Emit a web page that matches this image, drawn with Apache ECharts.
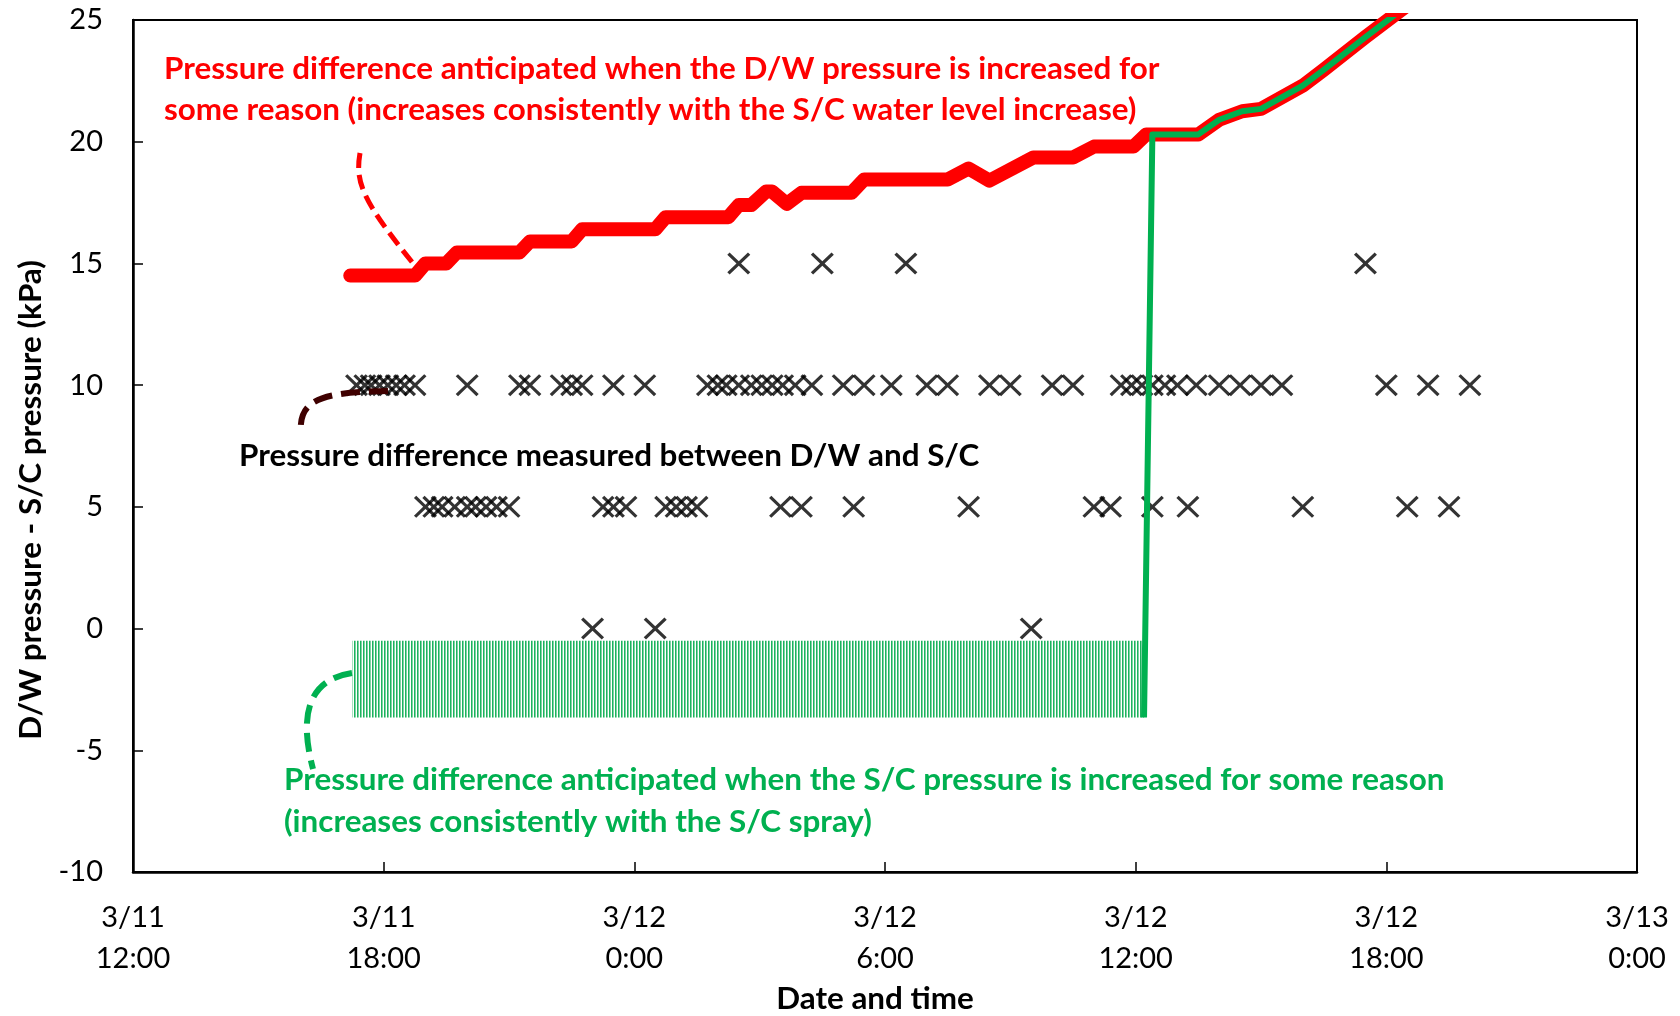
<!DOCTYPE html>
<html><head><meta charset="utf-8">
<script src="https://cdn.jsdelivr.net/npm/echarts@6/dist/echarts.min.js"></script>
<style>html,body{margin:0;padding:0;background:#fff}#c{width:1680px;height:1016px}</style>
</head><body><div id="c"></div>
<script>
// x values are hours after 3/11 12:00
const xTickLabels = ['3/11\n12:00','3/11\n18:00','3/12\n0:00','3/12\n6:00','3/12\n12:00','3/12\n18:00','3/13\n0:00'];
const yTickValues = [-10,-5,0,5,10,15,20,25];

// measured pressure difference (kPa) – times (h) at each reading level
const measured15Hours = [14.5, 16.5, 18.5, 29.5];
const measured10Hours = [5.35, 5.55, 5.7, 5.9, 6.1, 6.3, 6.5, 6.75, 8.0, 9.25, 9.5, 10.25, 10.5, 10.75, 11.5, 12.25,
  13.75, 14.0, 14.2, 14.5, 14.8, 15.05, 15.3, 15.55, 15.85, 16.25, 17.0, 17.5, 18.15, 19.0, 19.5, 20.5, 21.0,
  22.0, 22.5, 23.65, 23.9, 24.15, 24.4, 24.7, 25.0, 25.45, 26.0, 26.5, 27.0, 27.5, 30.0, 31.0, 32.0];
const measured5Hours = [7.0, 7.2, 7.4, 7.7, 8.0, 8.2, 8.45, 8.7, 9.0, 11.25, 11.5, 11.8, 12.75, 13.0, 13.25, 13.5,
  15.5, 16.0, 17.25, 20.0, 23.0, 23.4, 24.4, 25.25, 28.0, 30.5, 31.5];
const measured0Hours = [11.0, 12.5, 21.5];

// anticipated when D/W pressure increased (red)
const redHours = [5.2, 6.75, 7.0, 7.5, 7.75, 9.25, 9.5, 10.5, 10.75, 12.5, 12.75, 14.25, 14.5, 14.8, 15.15, 15.3, 15.65, 16.0,
  17.2, 17.5, 19.5, 20.0, 20.5, 21.55, 22.5, 23.0, 23.95, 24.25, 25.5, 26.0, 26.55, 27.0, 28.0, 28.5, 29.5, 30.5];
const redKPa = [14.5, 14.5, 15.0, 15.0, 15.45, 15.45, 15.9, 15.9, 16.4, 16.4, 16.9, 16.9, 17.4, 17.4, 17.95, 17.95, 17.45, 17.9,
  17.9, 18.45, 18.45, 18.9, 18.4, 19.35, 19.35, 19.8, 19.8, 20.3, 20.3, 20.9, 21.25, 21.35, 22.3, 22.95, 24.3, 25.6];

// anticipated when S/C pressure increased (green)
const greenHours = [24.2, 24.4, 25.5, 26.0, 26.55, 27.0, 28.0, 28.5, 29.5, 30.5];
const greenKPa = [-3.65, 20.3, 20.3, 20.9, 21.25, 21.35, 22.3, 22.95, 24.3, 25.6];
const greenBandStart = 5.25, greenBandEnd = 24.2, greenBandLow = -3.65, greenBandHigh = -0.5;

const FONT = 'Lato';
const RED = '#ff0000', GREEN = '#00b050', BROWN = '#3f0000';

const pc = document.createElement('canvas');
pc.width = 3; pc.height = 4;
const g = pc.getContext('2d');
g.fillStyle = '#ffffff'; g.fillRect(0,0,3,4);
g.fillStyle = '#1cb35e'; g.fillRect(0,0,1,4);
g.fillStyle = '#7fd3a3'; g.fillRect(1,0,1,4);

const xMark = 'path://M0,10L10,0L50,40L90,0L100,10L60,50L100,90L90,100L50,60L10,100L0,90L40,50Z';
const pts = (hrs, v) => hrs.map(h => [h, v]);
const scatterData = [].concat(pts(measured15Hours,15), pts(measured10Hours,10), pts(measured5Hours,5), pts(measured0Hours,0));

const chart = echarts.init(document.getElementById('c'), null, {renderer:'canvas'});
const TF = 'bold 31.4px ' + FONT;
chart.setOption({
  animation:false,
  backgroundColor:'#fff',
  grid:{left:133, right:43, top:20, bottom:144, show:true, borderColor:'#000', borderWidth:2, backgroundColor:'transparent'},
  xAxis:{type:'value', min:0, max:36, interval:6,
    axisLine:{onZero:false, lineStyle:{color:'#000', width:2.5}},
    axisTick:{inside:true, length:10, lineStyle:{color:'#000', width:1.5}},
    splitLine:{show:false},
    axisLabel:{color:'#000', fontFamily:FONT, fontSize:29, lineHeight:41, margin:25,
      formatter:v => xTickLabels[Math.round(v/6)]}},
  yAxis:{type:'value', min:yTickValues[0], max:yTickValues[yTickValues.length-1], interval:5,
    axisLine:{lineStyle:{color:'#000', width:2.5}},
    axisTick:{inside:true, length:10, lineStyle:{color:'#000', width:1.5}},
    splitLine:{show:false},
    axisLabel:{color:'#000', fontFamily:FONT, fontSize:29, margin:30}},
  series:[
    {type:'scatter', data:scatterData, symbol:xMark, symbolSize:[23,22], itemStyle:{color:'#000'}, z:2},
    {type:'line', data:redHours.map((h,i)=>[h,redKPa[i]]), symbol:'none', clip:true,
      lineStyle:{color:RED, width:14, cap:'round', join:'round'}, z:3},
    {type:'custom', z:4, clip:true,
      data:[[greenBandStart, greenBandEnd, greenBandLow, greenBandHigh]],
      encode:{x:[0,1], y:[2,3]},
      renderItem:(params, api) => {
        const a = api.coord([api.value(0), api.value(3)]);
        const b = api.coord([api.value(1), api.value(2)]);
        return {type:'rect', shape:{x:a[0], y:a[1], width:b[0]-a[0], height:b[1]-a[1]},
          style:{fill:{type:'pattern', image:pc, repeat:'repeat'}}};
      }},
    {type:'line', data:greenHours.map((h,i)=>[h,greenKPa[i]]), symbol:'none', clip:true,
      lineStyle:{color:GREEN, width:6, join:'round'}, z:5}
  ],
  graphic:[
    {type:'bezierCurve', z:100, shape:{x1:360,y1:153,cpx1:355,cpy1:182,cpx2:362,cpy2:200,x2:412,y2:262},
      style:{stroke:RED, lineWidth:5, lineDash:[15,7], fill:null}},
    {type:'bezierCurve', z:100, shape:{x1:388,y1:391,cpx1:320,cpy1:392,cpx2:298,cpy2:400,x2:301,y2:434},
      style:{stroke:BROWN, lineWidth:6, lineDash:[19,9], fill:null}},
    {type:'bezierCurve', z:100, shape:{x1:352,y1:673,cpx1:305,cpy1:680,cpx2:300,cpy2:720,x2:313,y2:769},
      style:{stroke:GREEN, lineWidth:6, lineDash:[19,9], fill:null}},
    {type:'text', z:100, x:164, y:69, style:{text:'Pressure difference anticipated when the D/W pressure is increased for', fill:RED, font:TF, verticalAlign:'middle'}},
    {type:'text', z:100, x:164, y:110, style:{text:'some reason (increases consistently with the S/C water level increase)', fill:RED, font:TF, verticalAlign:'middle'}},
    {type:'text', z:100, x:239, y:456, style:{text:'Pressure difference measured between D/W and S/C', fill:'#000', font:TF, verticalAlign:'middle'}},
    {type:'text', z:100, x:284, y:780, style:{text:'Pressure difference anticipated when the S/C pressure is increased for some reason', fill:GREEN, font:TF, verticalAlign:'middle'}},
    {type:'text', z:100, x:284, y:822, style:{text:'(increases consistently with the S/C spray)', fill:GREEN, font:TF, verticalAlign:'middle'}},
    {type:'text', z:100, x:875, y:999, style:{text:'Date and time', fill:'#000', font:TF, align:'center', verticalAlign:'middle'}},
    {type:'text', z:100, x:31, y:500, rotation:Math.PI/2, style:{text:'D/W pressure - S/C pressure (kPa)', fill:'#000', font:TF, align:'center', verticalAlign:'middle'}}
  ]
});
</script></body></html>
